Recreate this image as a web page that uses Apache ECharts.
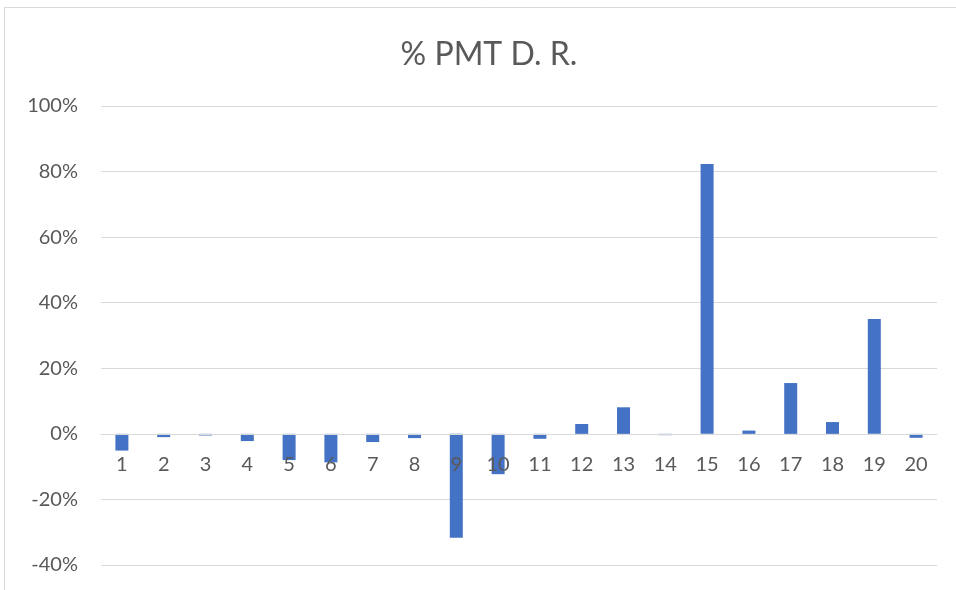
<!DOCTYPE html>
<html>
<head>
<meta charset="utf-8">
<script src="https://cdn.jsdelivr.net/npm/echarts@6/dist/echarts.min.js"></script>
<style>html,body{margin:0;padding:0;background:#fff;}#c{width:956px;height:590px;}</style>
</head>
<body>
<div id="c"></div>
<script>
var categories = ['1','2','3','4','5','6','7','8','9','10','11','12','13','14','15','16','17','18','19','20'];
var values = [-5.1, -1.0, -0.5, -2.2, -8.0, -8.7, -2.5, -1.3, -31.7, -12.3, -1.5, 3.0, 8.1, -0.4, 82.3, 1.0, 15.5, 3.6, 35.0, -1.2];
var titleText = '% PMT D. R.';

var chart = echarts.init(document.getElementById('c'));
chart.setOption({
  backgroundColor: '#fff',
  animation: false,
  title: {
    text: titleText,
    left: 484,
    textAlign: 'center',
    top: 34,
    textStyle: { fontFamily: 'Lato', fontSize: 32, fontWeight: 'normal', color: '#595959' }
  },
  graphic: [{
    type: 'rect',
    shape: { x: 4.5, y: 7.5, width: 960, height: 600 },
    style: { fill: 'none', stroke: '#d9d9d9', lineWidth: 1 },
    silent: true
  }],
  grid: { left: 101, right: 19, top: 106, bottom: 25, containLabel: false, outerBoundsMode: 'none' },
  xAxis: {
    type: 'category',
    data: categories,
    position: 'bottom',
    offset: -131,
    z: 10,
    axisLine: { show: true, onZero: false, lineStyle: { color: '#d9d9d9', width: 1 } },
    axisTick: { show: false },
    axisLabel: { fontFamily: 'Lato', fontSize: 20, color: '#595959', margin: 21 },
    splitLine: { show: false }
  },
  yAxis: {
    type: 'value',
    min: -40, max: 100, interval: 20,
    axisLine: { show: false },
    axisTick: { show: false },
    axisLabel: { fontFamily: 'Lato', fontSize: 20, color: '#595959', margin: 23, formatter: '{value}%' },
    splitLine: { lineStyle: { color: '#d9d9d9', width: 1 } }
  },
  series: [{
    type: 'bar',
    data: values,
    barWidth: 13,
    z: 2,
    itemStyle: { color: '#4472c4' }
  }]
});
</script>
</body>
</html>
